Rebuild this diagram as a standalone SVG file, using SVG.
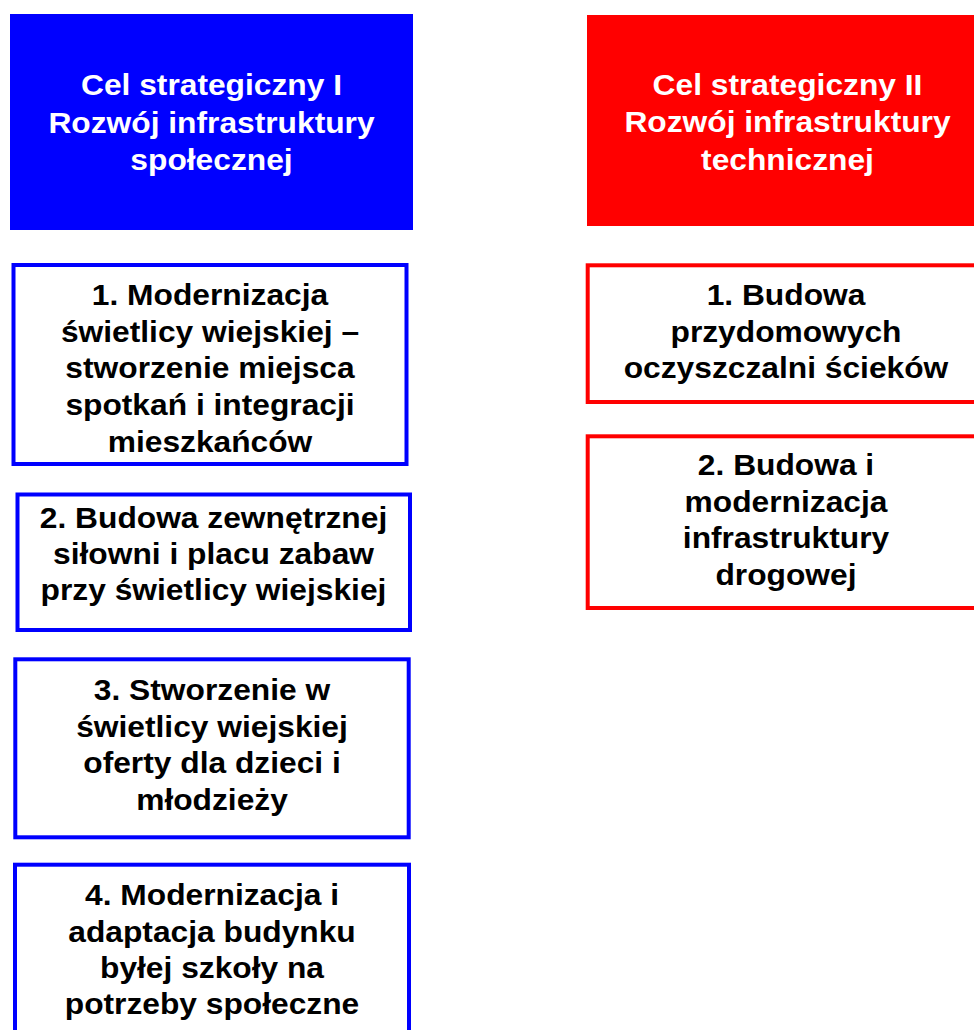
<svg xmlns="http://www.w3.org/2000/svg" width="974" height="1030" viewBox="0 0 974 1030">
<style>
.hdr-b{fill:#0000FF}
.hdr-r{fill:#FF0000}
.box-b{fill:#FFFFFF;stroke:#0000FF;stroke-width:4}
.box-r{fill:#FFFFFF;stroke:#FF0000;stroke-width:4}
text{font-family:"Liberation Sans",Arial,sans-serif;font-weight:bold;font-size:29px;text-anchor:middle}
.w{fill:#FFFFFF}
.k{fill:#000000}
</style>
<rect width="974" height="1030" fill="#FFFFFF"/>
<g id="connectors"></g>
<g id="goal1">
<rect class="hdr-b" x="10" y="14" width="403" height="216"/>
<text class="w" transform="translate(211.5,0) scale(1.095,1)"><tspan x="0" y="95.5">Cel strategiczny I</tspan><tspan x="0" y="133">Rozwój infrastruktury</tspan><tspan x="0" y="170.5">społecznej</tspan></text>
</g>
<g id="goal2">
<rect class="hdr-r" x="587" y="15" width="401" height="211"/>
<text class="w" transform="translate(787.5,0) scale(1.095,1)"><tspan x="0" y="95.5">Cel strategiczny II</tspan><tspan x="0" y="132.5">Rozwój infrastruktury</tspan><tspan x="0" y="170.5">technicznej</tspan></text>
</g>
<g id="b1">
<rect class="box-b" x="13.5" y="265" width="393" height="199"/>
<text class="k" transform="translate(210,0) scale(1.095,1)"><tspan x="0" y="305.5">1. Modernizacja</tspan><tspan x="0" y="342">świetlicy wiejskiej –</tspan><tspan x="0" y="378.5">stworzenie miejsca</tspan><tspan x="0" y="415.5">spotkań i integracji</tspan><tspan x="0" y="452">mieszkańców</tspan></text>
</g>
<g id="b2">
<rect class="box-b" x="17.5" y="494.5" width="392.5" height="135.5"/>
<text class="k" transform="translate(213.5,0) scale(1.095,1)"><tspan x="0" y="528.5">2. Budowa zewnętrznej</tspan><tspan x="0" y="564.5">siłowni i placu zabaw</tspan><tspan x="0" y="600.5">przy świetlicy wiejskiej</tspan></text>
</g>
<g id="b3">
<rect class="box-b" x="15.3" y="659.3" width="393.4" height="178"/>
<text class="k" transform="translate(212,0) scale(1.095,1)"><tspan x="0" y="700.5">3. Stworzenie w</tspan><tspan x="0" y="737">świetlicy wiejskiej</tspan><tspan x="0" y="773.5">oferty dla dzieci i</tspan><tspan x="0" y="810.5">młodzieży</tspan></text>
</g>
<g id="b4">
<rect class="box-b" x="15" y="864.7" width="394" height="200"/>
<text class="k" transform="translate(212,0) scale(1.095,1)"><tspan x="0" y="905.5">4. Modernizacja i</tspan><tspan x="0" y="942">adaptacja budynku</tspan><tspan x="0" y="978.5">byłej szkoły na</tspan><tspan x="0" y="1014">potrzeby społeczne</tspan></text>
</g>
<g id="r1">
<rect class="box-r" x="587.7" y="265.3" width="396" height="136.7"/>
<text class="k" transform="translate(786,0) scale(1.095,1)"><tspan x="0" y="305.5">1. Budowa</tspan><tspan x="0" y="342">przydomowych</tspan><tspan x="0" y="378.5">oczyszczalni ścieków</tspan></text>
</g>
<g id="r2">
<rect class="box-r" x="587.7" y="436.3" width="396" height="171.7"/>
<text class="k" transform="translate(786,0) scale(1.095,1)"><tspan x="0" y="475.5">2. Budowa i</tspan><tspan x="0" y="512">modernizacja</tspan><tspan x="0" y="548.5">infrastruktury</tspan><tspan x="0" y="585.5">drogowej</tspan></text>
</g>
</svg>
